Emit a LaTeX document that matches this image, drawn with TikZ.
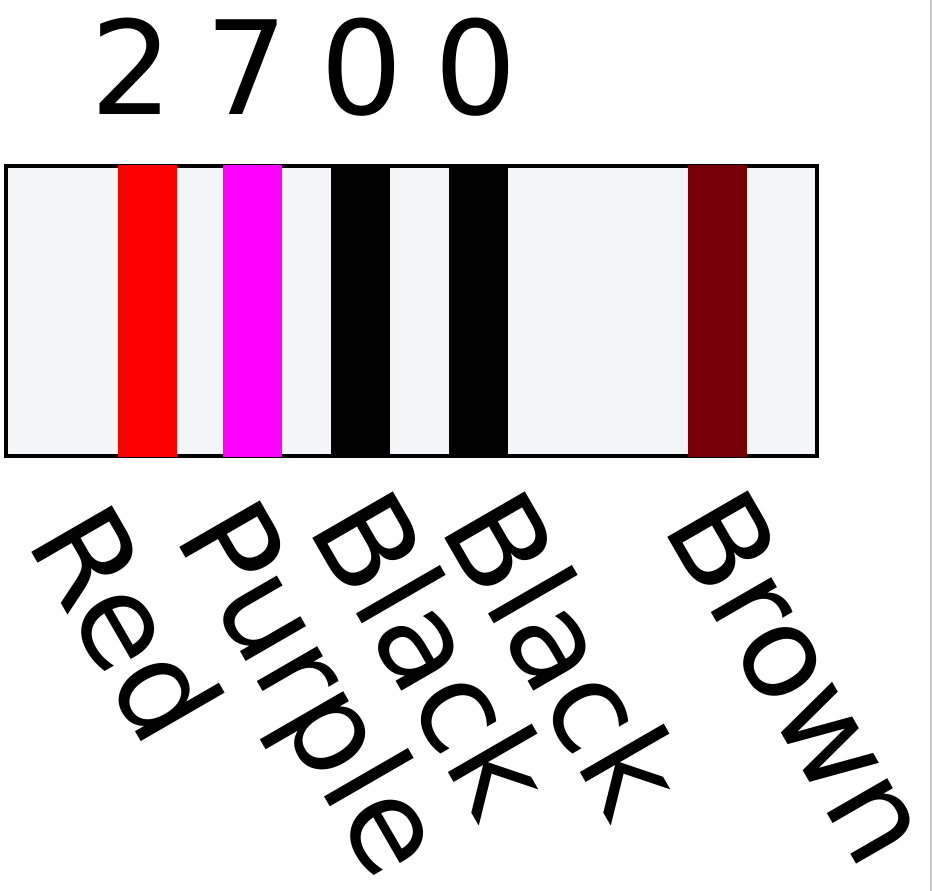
\documentclass[tikz,border=0pt]{standalone}
\usepackage{fontspec}
\setmainfont{DejaVu Sans}
\usepackage{tikz}
\usetikzlibrary{positioning}
\definecolor{bodyfill}{RGB}{243,245,246}
\definecolor{bandred}{RGB}{255,0,0}
\definecolor{bandpurple}{RGB}{255,0,255}
\definecolor{bandbrown}{RGB}{117,0,7}
\definecolor{edgegray}{RGB}{200,200,200}

\begin{document}
\begin{tikzpicture}[
  x=0.02cm,y=-0.02cm,
  body/.style={draw=black,line width=0.08cm,fill=bodyfill,minimum width=16.22cm,minimum height=5.8cm,inner sep=0pt},
  band/.style={minimum width=1.18cm,minimum height=5.84cm,inner sep=0pt},
  lbl/.style={anchor=base west,rotate=-60,inner sep=0pt,font=\fontsize{72.6pt}{80pt}\selectfont},
  val/.style={anchor=base west,inner sep=0pt,font=\fontsize{74pt}{80pt}\selectfont}]
\useasboundingbox[fill=white] (0,0) rectangle (932,891);
\draw[edgegray,line width=0.04cm] (930.5,0) -- (930.5,891);
% value
\node[val] (value) at (90.5,115) {\spaceskip=0.64cm\relax 2 7 0 0};
% resistor body
\node[body] (res) at (411.5,311) {};
% colour bands
\node[band,fill=bandred]    (b1) at (147.5,311) {};
\node[band,fill=bandpurple] (b2) at (252.5,311) {};
\node[band,fill=black]      (b3) at (360,311)   {};
\node[band,fill=black]      (b4) at (478,311)   {};
\node[band,fill=bandbrown]  (b5) at (717.5,311) {};
% band names
\node[lbl] (red)    at (25.7,541.1)  {Red};
\node[lbl] (purple) at (173.7,536.1) {Purple};
\node[lbl] (blackA) at (306.7,527.1) {Black};
\node[lbl] (blackB) at (438.7,527.1) {Black};
\node[lbl] (brown)  at (661.7,526.1) {Brown};
\end{tikzpicture}
\end{document}
